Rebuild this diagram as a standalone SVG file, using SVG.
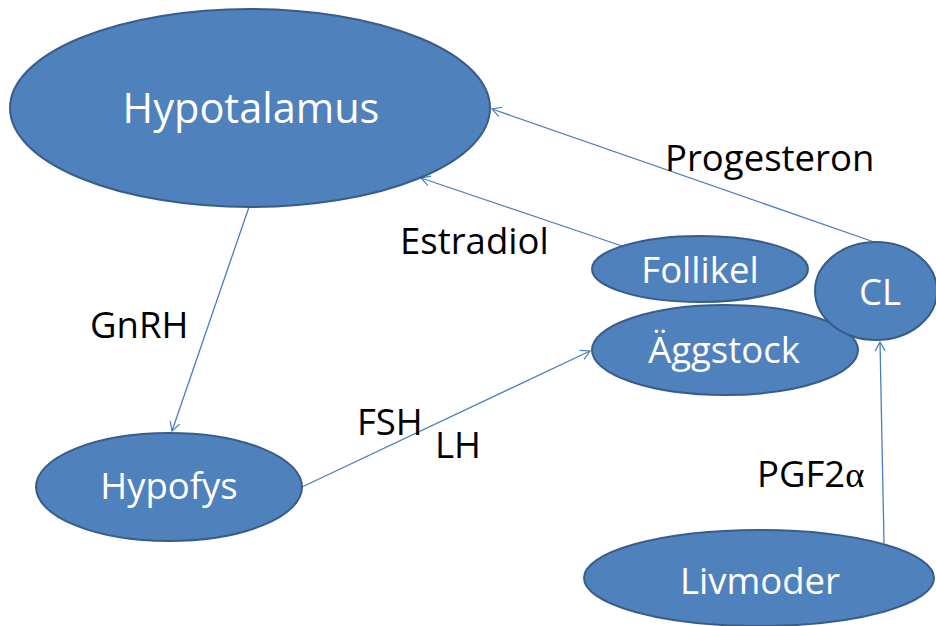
<svg xmlns="http://www.w3.org/2000/svg" width="936" height="626" viewBox="0 0 936 626">
<defs>
<marker id="arr" markerWidth="12" markerHeight="12" refX="10" refY="6" orient="auto" markerUnits="userSpaceOnUse">
<path d="M1,1 L10,6 L1,11" fill="none" stroke="#4A7EBB" stroke-width="1.2"/>
</marker>
</defs>
<style>
.node{fill:#4F81BD;stroke:#385D8A;stroke-width:2}
.nl{fill:#fff;font-family:"Open Sans","Liberation Sans",sans-serif;text-anchor:middle;font-size:36.5px}
.lbl{fill:#000;font-family:"Open Sans","Liberation Sans",sans-serif;font-size:36.5px}
.con{stroke:#4A7EBB;stroke-width:1.3;fill:none;marker-end:url(#arr)}
</style>
<rect width="936" height="626" fill="#fff"/>
<g id="connectors">
<line class="con" x1="249" y1="207" x2="172" y2="431"/>
<line class="con" x1="302" y1="487" x2="590" y2="351"/>
<line class="con" x1="622" y1="246" x2="421" y2="178"/>
<line class="con" x1="877" y1="243" x2="492" y2="109"/>
<line class="con" x1="884" y1="543" x2="880" y2="342"/>
</g>
<g id="hypotalamus">
<ellipse class="node" cx="250" cy="108" rx="240" ry="99"/>
<text class="nl" x="251" y="123" style="font-size:41.5px">Hypotalamus</text>
</g>
<g id="hypofys">
<ellipse class="node" cx="169" cy="487" rx="133" ry="54"/>
<text class="nl" x="169" y="499">Hypofys</text>
</g>
<g id="follikel">
<ellipse class="node" cx="700" cy="269" rx="108" ry="33"/>
<text class="nl" x="700" y="283">Follikel</text>
</g>
<g id="aggstock">
<ellipse class="node" cx="725" cy="350" rx="133" ry="45"/>
<text class="nl" x="724" y="363">Äggstock</text>
</g>
<g id="cl">
<ellipse class="node" cx="876" cy="291" rx="61" ry="49"/>
<text class="nl" x="880" y="305">CL</text>
</g>
<g id="livmoder">
<ellipse class="node" cx="759" cy="578" rx="175" ry="48"/>
<text class="nl" x="760" y="594">Livmoder</text>
</g>
<g id="labels">
<text class="lbl" x="665" y="171">Progesteron</text>
<text class="lbl" x="400" y="254">Estradiol</text>
<text class="lbl" x="90" y="338">GnRH</text>
<text class="lbl" x="357" y="435">FSH</text>
<text class="lbl" x="435" y="458">LH</text>
<text class="lbl" x="757" y="487">PGF2<tspan style="font-family:'Liberation Serif',serif">α</tspan></text>
</g>
</svg>
